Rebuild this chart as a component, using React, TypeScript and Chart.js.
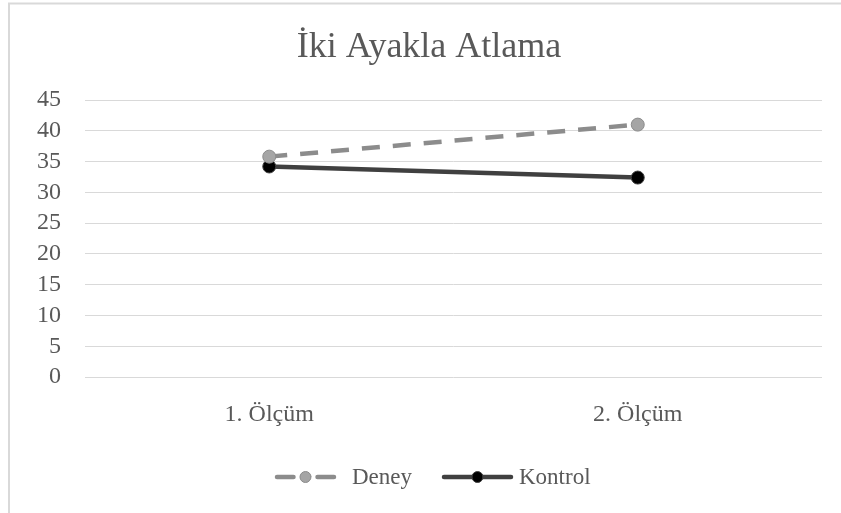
import React, { useEffect, useRef } from "react";
import { Chart, registerables } from "chart.js";

Chart.register(...registerables);

const title = "İki Ayakla Atlama";
const categories = ["1. Ölçüm", "2. Ölçüm"];
const deneyValues = [35.8, 41.0];
const kontrolValues = [34.2, 32.4];
const yTicks = [0, 5, 10, 15, 20, 25, 30, 35, 40, 45];

const FONT = "'Liberation Serif', 'Times New Roman', serif";
const TEXT = "#595959";
const GRID = "#d9d9d9";

const deneyStyle = { line: "#8c8c8c", fill: "#a5a5a5", border: "#8c8c8c", dash: [18, 13] };
const kontrolStyle = { line: "#404040", fill: "#000000", border: "#404040", dash: [] as number[] };

// Frame, title and legend drawn straight on the canvas
const framePlugin = {
  id: "frame",
  beforeDraw(chart: Chart) {
    const ctx = chart.ctx;
    ctx.save();
    ctx.fillStyle = "#ffffff";
    ctx.fillRect(0, 0, chart.width, chart.height);
    ctx.strokeStyle = GRID;
    ctx.lineWidth = 2;
    ctx.beginPath();
    ctx.moveTo(9, chart.height);
    ctx.lineTo(9, 3.5);
    ctx.lineTo(chart.width, 3.5);
    ctx.stroke();
    ctx.restore();
  },
  afterDraw(chart: Chart) {
    const ctx = chart.ctx;
    ctx.save();
    ctx.fillStyle = TEXT;
    ctx.font = `36px ${FONT}`;
    ctx.textAlign = "center";
    ctx.textBaseline = "alphabetic";
    ctx.fillText(title, 429, 57);

    const y = 477;
    const entries = [
      { label: "Deney", style: deneyStyle, x0: 275, x1: 336, text: 352 },
      { label: "Kontrol", style: kontrolStyle, x0: 442, x1: 513, text: 519 },
    ];
    for (const e of entries) {
      ctx.strokeStyle = e.style.line;
      ctx.lineWidth = 4.5;
      ctx.lineCap = "round";
      const mid = (e.x0 + e.x1) / 2;
      ctx.beginPath();
      if (e.style.dash.length) {
        ctx.moveTo(e.x0 + 2, y);
        ctx.lineTo(mid - 12, y);
        ctx.moveTo(mid + 12, y);
        ctx.lineTo(e.x1 - 2, y);
      } else {
        ctx.moveTo(e.x0 + 2, y);
        ctx.lineTo(e.x1 - 2, y);
      }
      ctx.stroke();
      ctx.beginPath();
      ctx.arc(mid, y, 5.5, 0, Math.PI * 2);
      ctx.fillStyle = e.style.fill;
      ctx.fill();
      ctx.lineWidth = 1;
      ctx.strokeStyle = e.style.border;
      ctx.stroke();
      ctx.fillStyle = TEXT;
      ctx.font = `23px ${FONT}`;
      ctx.textBaseline = "middle";
      ctx.textAlign = "left";
      ctx.fillText(e.label, e.text, y + 1);
    }
    ctx.restore();
  },
};

export default function App() {
  const ref = useRef<HTMLCanvasElement | null>(null);

  useEffect(() => {
    if (!ref.current) return;
    const chart = new Chart(ref.current, {
      type: "line",
      data: {
        labels: categories,
        datasets: [
          {
            label: "Deney",
            data: deneyValues,
            borderColor: deneyStyle.line,
            borderWidth: 4.5,
            borderDash: deneyStyle.dash,
            pointRadius: 6.5,
            pointBackgroundColor: deneyStyle.fill,
            pointBorderColor: deneyStyle.border,
            pointBorderWidth: 1,
            tension: 0,
          },
          {
            label: "Kontrol",
            data: kontrolValues,
            borderColor: kontrolStyle.line,
            borderWidth: 4.5,
            pointRadius: 6.5,
            pointBackgroundColor: kontrolStyle.fill,
            pointBorderColor: kontrolStyle.border,
            pointBorderWidth: 1,
            tension: 0,
          },
        ],
      },
      options: {
        animation: false,
        responsive: false,
        devicePixelRatio: 1,
        layout: { padding: { left: 0, right: 19, top: 100, bottom: 86 } },
        plugins: {
          legend: { display: false },
          tooltip: { enabled: false },
          title: { display: false },
        },
        scales: {
          x: {
            offset: true,
            grid: { display: false, drawTicks: false },
            border: { display: false },
            ticks: {
              color: TEXT,
              font: { family: FONT, size: 24 },
              padding: 23,
              autoSkip: false,
              maxRotation: 0,
            },
            afterFit: (s: any) => {
              s.height = 50;
            },
          },
          y: {
            min: 0,
            max: 45,
            afterBuildTicks: (s: any) => {
              s.ticks = yTicks.map((v) => ({ value: v }));
            },
            grid: { color: GRID, lineWidth: 1, drawTicks: false },
            border: { display: false },
            ticks: {
              color: TEXT,
              font: { family: FONT, size: 24 },
              padding: 24,
              autoSkip: false,
            },
            afterFit: (s: any) => {
              s.width = 85;
            },
          },
        },
      },
      plugins: [framePlugin],
    });
    return () => chart.destroy();
  }, []);

  return (
    <div style={{ position: "absolute", left: 0, top: 0, width: 841, height: 513, background: "#fff" }}>
      <canvas ref={ref} width={841} height={513} style={{ display: "block", width: 841, height: 513 }} />
    </div>
  );
}
